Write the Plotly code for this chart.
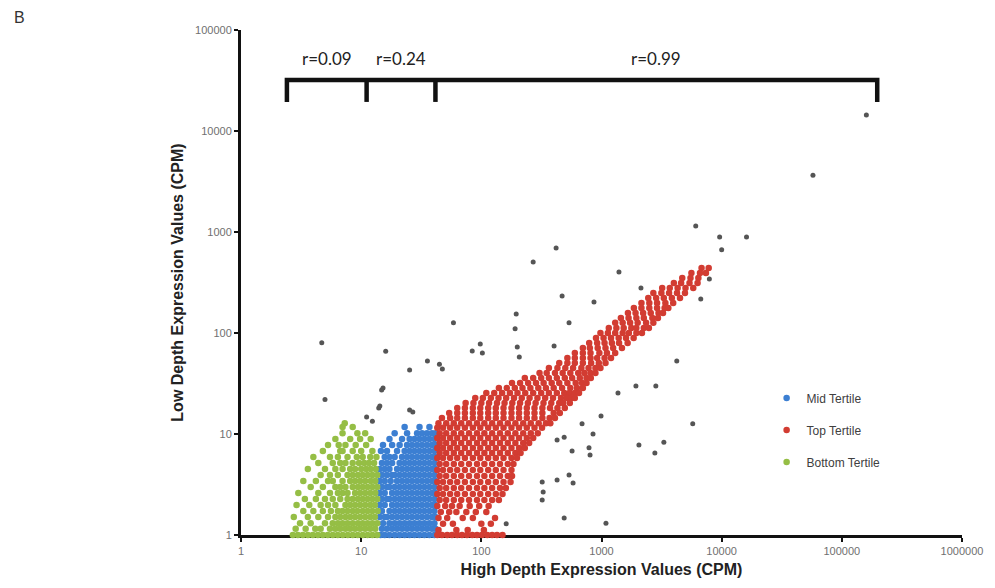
import math
import plotly.graph_objects as go


# ---------------------------------------------------
# Data (CPM values)
# ---------------------------------------------------

x_ticks = [1, 10, 100, 1000, 10000, 100000, 1000000]
y_ticks = [1, 10, 100, 1000, 10000, 100000]

# brackets over the tertiles: edges on the x axis and their correlations
bracket_edges = [2.41, 11.1, 41.5, 197000]
bracket_labels = ["r=0.09", "r=0.24", "r=0.99"]

# each row: (low depth value, [high depth values])
bottom_rows = [
    (1.0, [2.7, 2.97, 3.27, 3.6, 3.96, 4.36, 4.79, 5.27, 5.8, 6.38, 7.02, 7.73, 8.5, 9.35, 10.3, 11.3, 12.4, 13.6]),
    (1.15, [2.85, 3.45, 4.15, 4.6, 5.5, 6.1, 6.7, 7.4, 8.1, 8.9, 9.8, 10.8, 11.9, 13.1]),
    (1.31, [3.1, 3.8, 5.0, 5.8, 6.4, 7.0, 7.7, 8.5, 9.4, 10.3, 11.3, 12.4, 13.6]),
    (1.51, [2.75, 3.6, 4.4, 5.3, 6.1, 6.7, 7.4, 8.1, 8.9, 9.8, 10.8, 11.9, 13.0]),
    (1.73, [3.3, 4.0, 4.8, 5.6, 6.4, 7.0, 7.7, 8.5, 9.3, 10.3, 11.3, 12.4, 13.7]),
    (1.98, [2.9, 3.7, 4.6, 5.3, 6.1, 7.4, 8.1, 8.9, 9.8, 10.8, 11.9, 13.0]),
    (2.27, [3.4, 4.2, 5.0, 5.8, 6.7, 7.7, 8.5, 9.4, 10.3, 11.3, 12.4, 13.6]),
    (2.61, [3.0, 4.4, 5.5, 6.4, 7.0, 7.7, 8.9, 9.8, 10.8, 11.9, 13.1]),
    (2.99, [3.8, 4.8, 6.1, 6.7, 7.4, 8.5, 9.4, 10.3, 11.3, 12.4, 13.6]),
    (3.43, [3.3, 4.2, 5.3, 5.8, 7.0, 8.1, 8.9, 9.8, 10.8, 12.0, 13.1]),
    (3.93, [4.6, 5.5, 6.4, 7.7, 8.5, 9.4, 10.3, 11.3, 12.4, 13.6]),
    (4.50, [3.6, 5.0, 6.1, 7.0, 8.1, 8.9, 10.0, 11.0, 12.0, 13.2]),
    (5.16, [4.4, 5.8, 6.7, 7.4, 8.5, 9.6, 10.6, 11.6, 12.8]),
    (5.92, [4.0, 5.5, 6.4, 7.7, 9.2, 10.3, 11.9, 13.4]),
    (6.79, [4.8, 6.7, 7.0, 8.5, 10.0, 12.4]),
    (7.78, [5.3, 6.5, 7.4, 9.0, 11.0]),
    (8.92, [6.1, 8.1, 9.8, 12.0]),
    (10.2, [7.0, 9.3, 10.8]),
    (11.7, [7.0, 8.5]),
    (12.8, [7.3]),
]
bottom_strays = [(5.0, 22), (4.7, 80), (11.1, 14.7), (12.4, 13.4)]

mid_rows = [
    (1.0, [14.5, 15.7, 17.2, 19.0, 20.9, 23.0, 25.3, 27.8, 30.6, 33.6, 37.0, 40.7]),
    (1.15, [14.9, 16.4, 18.1, 19.9, 21.9, 24.1, 26.5, 29.2, 32.1, 35.3, 38.8, 41.5]),
    (1.31, [15.2, 17.2, 19.0, 20.9, 23.0, 25.3, 27.8, 30.6, 33.6, 37.0, 40.7]),
    (1.51, [14.3, 15.7, 16.4, 18.1, 19.9, 21.9, 24.1, 26.5, 29.2, 32.1, 35.3, 38.8, 41.5]),
    (1.73, [14.9, 17.2, 19.0, 20.9, 23.0, 25.3, 27.8, 30.6, 33.6, 37.0, 40.7]),
    (1.98, [14.3, 15.7, 18.1, 19.9, 21.9, 24.1, 26.5, 29.2, 32.1, 35.3, 38.8, 41.5]),
    (2.27, [14.9, 16.4, 17.2, 19.0, 20.9, 23.0, 25.3, 27.8, 30.6, 33.6, 37.0, 40.7]),
    (2.61, [14.3, 15.7, 18.1, 19.9, 21.9, 24.1, 26.5, 29.2, 32.1, 35.3, 38.8, 41.5]),
    (2.99, [14.9, 16.4, 17.2, 19.0, 20.9, 23.0, 25.3, 27.8, 30.6, 33.6, 37.0, 40.7]),
    (3.43, [14.3, 15.7, 17.6, 19.9, 21.9, 24.1, 26.5, 29.2, 32.1, 35.3, 38.8, 41.5]),
    (3.93, [14.9, 16.4, 18.1, 19.0, 20.9, 23.0, 25.3, 27.8, 30.6, 33.6, 37.0, 40.7]),
    (4.50, [14.3, 15.7, 17.2, 19.9, 21.9, 24.1, 26.5, 29.2, 32.1, 35.3, 38.8, 41.5]),
    (5.16, [14.9, 16.4, 18.1, 20.9, 23.0, 25.3, 27.8, 30.6, 33.6, 37.0, 40.7]),
    (5.92, [15.7, 17.2, 19.0, 21.9, 24.1, 26.5, 29.2, 32.1, 35.3, 38.8, 41.5]),
    (6.79, [14.6, 16.4, 19.9, 23.0, 25.3, 27.8, 30.6, 33.6, 37.0, 40.7]),
    (7.78, [15.2, 18.1, 20.9, 24.1, 26.5, 29.2, 32.1, 35.3, 38.8, 41.5]),
    (8.92, [17.2, 21.9, 25.3, 27.8, 30.6, 33.6, 37.0, 40.7]),
    (10.2, [19.0, 24.1, 29.2, 32.1, 35.3, 38.8, 41.5]),
    (11.7, [23.0, 30.6, 37.0]),
]
mid_strays = [(14.8, 27.3), (15.2, 28.5), (14.0, 18.1), (14.3, 18.9), (25.3, 17.3),
              (26.9, 16.5), (16.0, 66), (25.3, 43), (35.6, 52.7)]

top_rows = [
    (440, [6800, 7800]),
    (393, [5600, 6600, 7400]),
    (351, [4700, 5500, 6400]),
    (313, [4000, 4600, 5400, 6300]),
    (279, [3200, 3700, 4300, 5000, 5800]),
    (249, [2700, 3150, 3650, 4250, 4950]),
    (222, [2450, 2850, 3300, 3850, 4500]),
    (198, [2150, 2500, 2900, 3400, 3950]),
    (177, [1860, 2150, 2500, 2900, 3350, 3600]),
    (158, [1660, 1920, 2220, 2570, 2980, 3250]),
    (141, [1450, 1680, 1950, 2250, 2650, 2950]),
    (126, [1300, 1500, 1730, 2000, 2350, 2700]),
    (112, [1150, 1330, 1530, 1770, 1950, 2250, 2480]),
    (100, [980, 1130, 1300, 1500, 1690, 1950, 2170]),
    (89.2, [900, 1040, 1200, 1390, 1600, 1850]),
    (79.6, [790, 920, 1060, 1220, 1400, 1650]),
    (71.0, [700, 800, 930, 1080, 1250, 1480]),
    (63.4, [600, 700, 810, 960, 1110, 1300]),
    (56.5, [520, 600, 700, 810, 920, 1060, 1200]),
    (50.5, [445, 520, 600, 700, 820, 950, 1080]),
    (45.0, [365, 430, 500, 580, 680, 780, 890, 980]),
    (40.2, [305, 350, 410, 475, 550, 640, 720, 810, 890]),
    (35.8, [230, 270, 315, 365, 425, 495, 570, 660, 750, 815]),
    (32.0, [180, 210, 245, 285, 330, 385, 445, 520, 610, 690, 750]),
    (28.5, [140, 163, 190, 220, 256, 298, 345, 400, 470, 550, 625, 700]),
    (25.5, [110, 128, 149, 173, 200, 232, 270, 315, 365, 425, 490, 540, 600, 650]),
    (22.7, [89, 103, 120, 139, 161, 187, 217, 252, 293, 340, 395, 460, 515, 560, 600]),
    (20.3, [74, 86, 100, 116, 135, 156, 181, 210, 244, 283, 329, 382, 445, 480, 545]),
    (18.1, [63, 73, 85, 98, 114, 132, 153, 178, 206, 239, 277, 322, 373, 430, 495]),
    (16.1, [54, 63, 73, 85, 98, 114, 132, 153, 178, 206, 239, 277, 322, 400, 450]),
    (14.4, [47, 55, 63, 73, 85, 98, 114, 132, 153, 178, 206, 239, 277, 322, 370, 410]),
    (12.8, [44, 51, 59, 68, 79, 92, 106, 123, 143, 166, 192, 223, 258, 300, 345, 375]),
    (11.5, [43, 48, 55, 63, 73, 85, 98, 114, 132, 153, 178, 206, 239, 277, 320]),
    (10.2, [45, 51, 59, 68, 79, 92, 106, 123, 143, 166, 192, 223, 258, 295]),
    (9.13, [43, 48, 55, 63, 73, 85, 98, 114, 132, 153, 178, 206, 239, 270]),
    (8.14, [45, 51, 59, 68, 79, 92, 106, 123, 143, 166, 192, 223, 250]),
    (7.27, [43, 48, 55, 63, 73, 85, 98, 114, 132, 153, 178, 206, 230]),
    (6.48, [45, 51, 59, 68, 79, 92, 106, 123, 143, 166, 192, 212]),
    (5.78, [43, 48, 55, 63, 73, 85, 98, 114, 132, 153, 178, 198]),
    (5.05, [45, 51, 59, 68, 79, 92, 106, 123, 143, 166, 185]),
    (4.40, [43, 48, 55, 63, 73, 85, 98, 114, 132, 153, 178]),
    (3.84, [45, 51, 59, 68, 79, 92, 106, 123, 143, 166, 180]),
    (3.35, [43, 48, 55, 63, 73, 85, 98, 114, 132, 153, 175]),
    (2.92, [45, 51, 59, 68, 79, 92, 106, 123, 143, 160]),
    (2.55, [43, 48, 55, 63, 73, 85, 98, 114, 132, 150]),
    (2.22, [45, 51, 59, 68, 79, 92, 106, 123, 140]),
    (1.94, [43, 50, 57, 66, 80, 96, 115]),
    (1.69, [46, 54, 62, 75, 90, 110]),
    (1.47, [44, 52, 70, 85, 130]),
    (1.29, [48, 58, 100, 120]),
    (1.12, [44, 62, 77, 105]),
    (1.0, [43, 47, 52, 57, 63, 69, 76, 84, 92, 101, 112, 123, 135, 150]),
]
top_strays = [
    (419, 695), (270, 505), (1397, 402), (10000, 667), (470, 232), (866, 203),
    (2130, 279), (195, 154), (58.6, 126), (537, 126), (191, 110), (98, 77.8),
    (84, 66.3), (102, 63.4), (199, 72.7), (207, 57.8), (403, 74.3), (44.8, 49),
    (47.4, 44), (4230, 52.8), (1934, 29.9), (2833, 29.9), (1371, 25.5),
    (5745, 12.6), (991, 15.1), (689, 12.6), (850, 10.0), (427, 8.7), (489, 9.3),
    (569, 6.8), (787, 7.3), (803, 6.2), (2048, 7.8), (3303, 8.3), (2780, 6.5),
    (321, 3.35), (327, 2.67), (321, 2.22), (427, 3.5), (537, 3.93), (580, 3.27),
    (489, 1.47), (1089, 1.31), (161, 1.29), (6085, 1145), (9620, 893),
    (16100, 893), (7900, 343), (6700, 217), (57500, 3650), (160000, 14400),
]

series = [
    ("Mid Tertile", mid_rows, mid_strays, "#3C7FD2"),
    ("Top Tertile", top_rows, top_strays, "#D23C32"),
    ("Bottom Tertile", bottom_rows, bottom_strays, "#95BE45"),
]


# ---------------------------------------------------
# Figure
# ---------------------------------------------------

fig = go.Figure()

for name, rows, strays, color in series:
    xs = [xv for yv, row in rows for xv in row]
    ys = [yv for yv, row in rows for xv in row]
    fig.add_trace(go.Scatter(
        x=xs, y=ys, mode="markers", name=name, legendgroup=name,
        marker=dict(size=6.5, color=color),
        cliponaxis=False, hoverinfo="skip"
    ))

for name, rows, strays, color in series:
    fig.add_trace(go.Scatter(
        x=[p[0] for p in strays], y=[p[1] for p in strays],
        mode="markers", legendgroup=name, showlegend=False,
        marker=dict(size=5, color="#555555"),
        cliponaxis=False, hoverinfo="skip"
    ))

# bracket over the tertiles
b_top = 32000
b_bot = 19400
bx = [bracket_edges[0], bracket_edges[0], bracket_edges[-1], bracket_edges[-1]]
by = [b_bot, b_top, b_top, b_bot]
for e in bracket_edges[1:-1]:
    bx += [None, e, e]
    by += [None, b_top, b_bot]

fig.add_trace(go.Scatter(
    x=bx, y=by, mode="lines", showlegend=False, hoverinfo="skip",
    line=dict(color="#111111", width=4.5), cliponaxis=False
))

for i, label in enumerate(bracket_labels):
    mid = (math.log10(bracket_edges[i]) + math.log10(bracket_edges[i + 1])) / 2
    fig.add_annotation(
        x=mid, y=4.72, xref="x", yref="y", text=label, showarrow=False,
        font=dict(family="Lato, Open Sans", size=17, color="#222222")
    )

fig.add_annotation(
    x=-0.317, y=1.024, xref="paper", yref="paper", text="B", showarrow=False,
    xanchor="left", yanchor="middle",
    font=dict(family="Liberation Sans, Arial", size=16, color="#333333")
)

axis_common = dict(
    type="log", showgrid=False, zeroline=False,
    showline=True, linecolor="#111111", linewidth=3,
    ticks="outside", ticklen=4, tickwidth=2, tickcolor="#111111",
    tickfont=dict(family="Liberation Sans, Arial", size=11, color="#707070"),
    layer="below traces"
)

fig.update_xaxes(
    range=[0, 6], tickvals=x_ticks, ticktext=[str(v) for v in x_ticks],
    title=dict(text="High Depth Expression Values (CPM)", standoff=8,
               font=dict(family="Liberation Sans, Arial", size=16, color="#222222", weight="bold")),
    **axis_common
)
fig.update_yaxes(
    range=[0, 5], tickvals=y_ticks, ticktext=[str(v) for v in y_ticks],
    title=dict(text="Low Depth Expression Values (CPM)", standoff=8,
               font=dict(family="Liberation Sans, Arial", size=16, color="#222222", weight="bold")),
    **axis_common
)

# the page body adds an 8px offset, so the figure is drawn 8px smaller
fig.update_layout(
    width=987, height=580,
    margin=dict(l=233, r=31, t=22, b=53),
    paper_bgcolor="white", plot_bgcolor="white",
    legend=dict(
        x=0.729, y=0.30, xanchor="left", yanchor="top",
        traceorder="grouped", tracegroupgap=13, itemwidth=30,
        bgcolor="rgba(0,0,0,0)",
        font=dict(family="Liberation Sans, Arial", size=12, color="#404040")
    ),
    hovermode=False
)

fig.write_html("out.html")
